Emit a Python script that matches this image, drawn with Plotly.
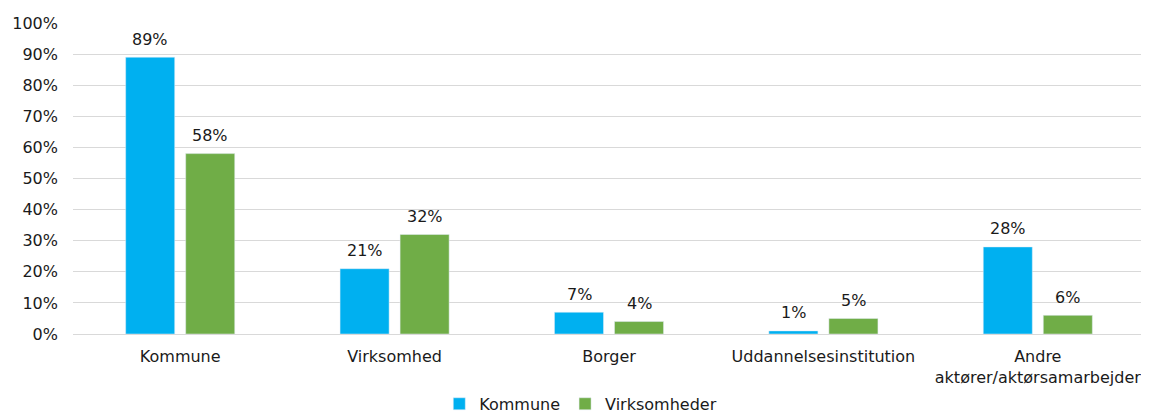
import plotly.graph_objects as go

categories = ["Kommune", "Virksomhed", "Borger", "Uddannelsesinstitution", "Andre<br>aktører/aktørsamarbejder"]
kommune = [89, 21, 7, 1, 28]
virksomheder = [58, 32, 4, 5, 6]
tick_vals = [0, 10, 20, 30, 40, 50, 60, 70, 80, 90, 100]
tick_text = [f"{v}%" for v in tick_vals]

FONT = "DejaVu Sans, Verdana, sans-serif"
TXT = "#1a1a1a"
FS = 16

fig = go.Figure()
fig.add_trace(go.Bar(x=categories, y=kommune, name="Kommune", marker_color="#00B0F0"))
fig.add_trace(go.Bar(x=categories, y=virksomheder, name="Virksomheder", marker_color="#70AD47"))

# data labels above each bar (offset half a bar slot left/right of category centre)
for series, shift in ((kommune, -30), (virksomheder, 30)):
    for cat, v in zip(categories, series):
        fig.add_annotation(x=cat, y=v, xref="x", yref="y", text=f"{v}%",
                           showarrow=False, xshift=shift, yshift=18,
                           yanchor="middle", font=dict(family=FONT, size=FS, color=TXT))

# page body has an 8px margin, so the figure is shrunk and offsets compensated
fig.update_layout(
    width=1141, height=406,
    margin=dict(l=65, r=4, t=15, b=80, autoexpand=False),
    paper_bgcolor="white", plot_bgcolor="white",
    barmode="group", bargap=0.44, bargroupgap=0.183,
    font=dict(family=FONT, size=FS, color=TXT),
    showlegend=True,
    legend=dict(orientation="h", xref="container", yref="container",
                x=0.502, xanchor="center", y=0.025, yanchor="middle",
                font=dict(family=FONT, size=FS, color=TXT),
                itemwidth=30, tracegroupgap=0),
)
fig.update_yaxes(range=[0, 100], tickvals=tick_vals, ticktext=tick_text,
                 showgrid=True, gridcolor="#D9D9D9", gridwidth=1,
                 zeroline=True, zerolinecolor="#D9D9D9", zerolinewidth=1,
                 ticks="", ticklen=0, ticklabelstandoff=14,
                 tickfont=dict(family=FONT, size=FS, color=TXT))
fig.update_xaxes(showline=False, ticks="", tickangle=0, ticklabelstandoff=11,
                 tickfont=dict(family=FONT, size=FS, color=TXT))

fig.write_html("out.html")
